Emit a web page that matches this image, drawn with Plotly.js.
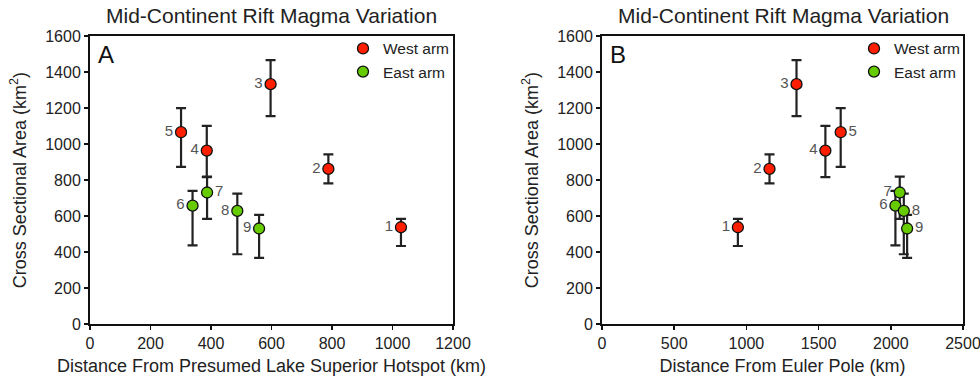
<!DOCTYPE html>
<html><head><meta charset="utf-8">
<script src="https://cdn.plot.ly/plotly-3.0.1.min.js"></script>
<style>body{margin:0;padding:0;background:#fff}#chart{width:980px;height:384px}</style>
</head><body><div id="chart"></div>
<script>
// West arm: segments 1-5, East arm: segments 6-9
const westLabels = ["1","2","3","4","5"];
const eastLabels = ["6","7","8","9"];
const westArea = [538, 862, 1333, 964, 1066];
const eastArea = [658, 731, 629, 531];
const westErrPlus = [47, 81, 133, 137, 134];
const westErrMinus = [104, 80, 178, 147, 192];
const eastErrPlus = [82, 88, 96, 76];
const eastErrMinus = [221, 146, 241, 163];
const westHotspotDist = [1028, 788, 597, 386, 301];
const eastHotspotDist = [339, 387, 487, 559];
const westEulerDist = [941, 1160, 1347, 1547, 1653];
const eastEulerDist = [2032, 2062, 2090, 2113];
const westPosA = ["middle left","middle left","middle left","middle left","middle left"];
const eastPosA = ["middle left","middle right","middle left","middle left"];
const westPosB = ["middle left","middle left","middle left","middle left","middle right"];
const eastPosB = ["middle left","middle left","middle right","middle right"];

const RED = "#ff1f00", GREEN = "#66cc00";
const F = "Liberation Sans, Arial, sans-serif";
function tr(x, y, ep, em, txt, pos, color, name, xa, ya, legend, show) {
  return {
    type: "scatter", mode: "markers+text", x: x, y: y, text: txt, textposition: pos,
    textfont: {family: F, size: 15, color: "#555"},
    marker: {size: 11, color: color, line: {color: "#111", width: 1.3}},
    error_y: {type: "data", symmetric: false, array: ep, arrayminus: em, color: "#222", thickness: 2.2, width: 5},
    name: name, xaxis: xa, yaxis: ya, legend: legend, showlegend: show, cliponaxis: false
  };
}
const data = [
  tr(westHotspotDist, westArea, westErrPlus, westErrMinus, westLabels, westPosA, RED, "West arm", "x", "y", "legend", true),
  tr(eastHotspotDist, eastArea, eastErrPlus, eastErrMinus, eastLabels, eastPosA, GREEN, "East arm", "x", "y", "legend", true),
  tr(westEulerDist, westArea, westErrPlus, westErrMinus, westLabels, westPosB, RED, "West arm", "x2", "y2", "legend2", true),
  tr(eastEulerDist, eastArea, eastErrPlus, eastErrMinus, eastLabels, eastPosB, GREEN, "East arm", "x2", "y2", "legend2", true)
];
function xax(dom, range, dtick, title, anchor) {
  return {domain: dom, range: range, dtick: dtick, anchor: anchor, showgrid: false, zeroline: false,
    showline: true, mirror: true, linecolor: "#111", linewidth: 2, ticks: "outside", ticklen: 4, tickwidth: 1.5, tickcolor: "#111",
    tickfont: {family: F, size: 16, color: "#222"}, ticklabeloverflow: "allow",
    title: {text: title, font: {family: F, size: 18, color: "#222"}, standoff: 8}};
}
function yax(range, anchor) {
  return {domain: [0.156, 0.906], range: range, dtick: 200, anchor: anchor, showgrid: false, zeroline: false,
    showline: true, mirror: true, linecolor: "#111", linewidth: 2, ticks: "outside", ticklen: 4, tickwidth: 1.5, tickcolor: "#111",
    tickfont: {family: F, size: 16, color: "#222"},
    title: {text: "Cross Sectional Area (km<sup>2</sup>)", font: {family: F, size: 18, color: "#222"}, standoff: 14}};
}
const legendStyle = (x) => ({x: x, y: 0.917, xanchor: "right", yanchor: "top", bgcolor: "rgba(0,0,0,0)",
  font: {family: F, size: 15.5, color: "#222"}, tracegroupgap: 0, itemwidth: 30});
const layout = {
  width: 980, height: 384, margin: {l: 0, r: 0, t: 0, b: 0},
  paper_bgcolor: "#fff", plot_bgcolor: "#fff",
  xaxis: xax([90/980, 453/980], [0, 1200], 200, "Distance From Presumed Lake Superior Hotspot (km)", "y"),
  yaxis: yax([0, 1600], "x"),
  xaxis2: xax([602/980, 963/980], [0, 2500], 500, "Distance From Euler Pole (km)", "y2"),
  yaxis2: yax([0, 1600], "x2"),
  legend: legendStyle(455/980),
  legend2: legendStyle(966/980),
  annotations: [
    {text: "Mid-Continent Rift Magma Variation", xref: "paper", yref: "paper", x: 271/980, y: 1 - 15/384, xanchor: "center", yanchor: "middle", showarrow: false, font: {family: F, size: 21, color: "#222"}},
    {text: "Mid-Continent Rift Magma Variation", xref: "paper", yref: "paper", x: 783/980, y: 1 - 15/384, xanchor: "center", yanchor: "middle", showarrow: false, font: {family: F, size: 21, color: "#222"}},
    {text: "A", xref: "paper", yref: "paper", x: 96/980, y: 1 - 54/384, xanchor: "left", yanchor: "middle", showarrow: false, font: {family: F, size: 24, color: "#111"}},
    {text: "B", xref: "paper", yref: "paper", x: 608/980, y: 1 - 54/384, xanchor: "left", yanchor: "middle", showarrow: false, font: {family: F, size: 24, color: "#111"}}
  ]
};
Plotly.newPlot("chart", data, layout, {displayModeBar: false, staticPlot: true});
</script></body></html>
